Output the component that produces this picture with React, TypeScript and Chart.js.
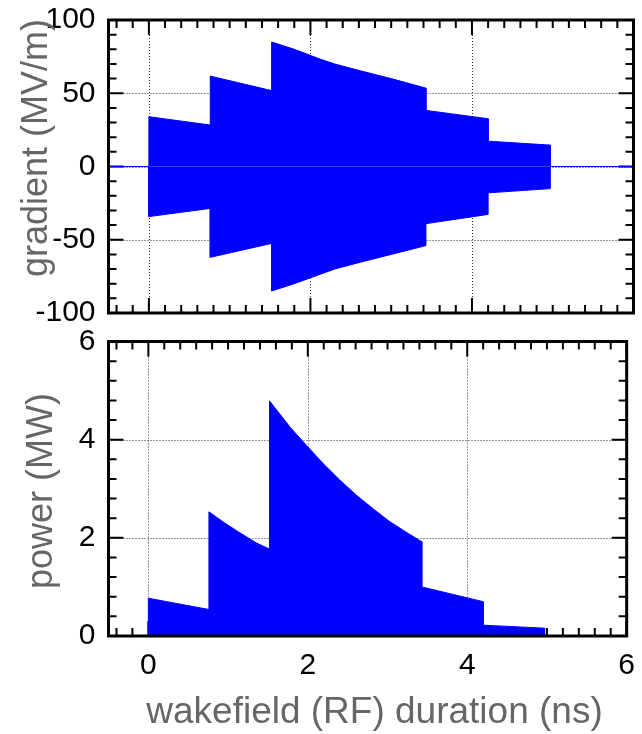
import React, { useEffect, useRef } from 'react';
import { Chart, registerables } from 'chart.js';

Chart.register(...registerables);

const W = 642;
const H = 734;
const FONT = '"Liberation Sans", Arial, Helvetica, sans-serif';
const BLUE = '#0000ff';
const TITLE_COLOR = '#666666';

// shared time axis (ns)
const timeMin = -0.5;
const timeMax = 6;
const timeTicks = [0, 2, 4, 6];
const timeTickLabels = ['0', '2', '4', '6'];
const timeMinorStep = 0.2;

// accelerating gradient envelope (MV/m)
const gradTime = [-0.5, 0, 0, 0.76, 0.76, 1.52, 1.52, 1.8, 2.12, 2.3, 2.62, 3.0, 3.43, 3.43, 4.2, 4.2, 4.97, 4.97, 6];
const gradUpper = [0, 0, 34, 28.3, 61.7, 51.8, 85, 80, 73.3, 70, 65.3, 60, 53.5, 38.3, 32.6, 17.3, 14.6, 0, 0];
const gradLower = [0, 0, -34.2, -28.6, -62, -52.5, -85, -80, -73.6, -70, -65.3, -60, -54, -39, -32.7, -18, -15.1, 0, 0];
const gradTicks = [-100, -50, 0, 50, 100];
const gradTickLabels = ['-100', '-50', '0', '50', '100'];
const gradMinorStep = 10;

// RF power (MW)
const powerTime = [
  -0.2, 0, 0, 0.76, 0.76, 0.95, 1.15, 1.35, 1.52, 1.52, 1.78, 1.93, 2.2, 2.4, 2.61, 2.82, 3.02, 3.23, 3.43, 3.43,
  4.2, 4.2, 4.97, 4.97, 6,
];
const powerValues = [
  0, 0, 0.77, 0.54, 2.53, 2.31, 2.1, 1.9, 1.77, 4.79, 4.25, 3.98, 3.5, 3.18, 2.87, 2.59, 2.34, 2.12, 1.92, 1.0,
  0.7, 0.22, 0.16, 0, 0,
];
const powerTicks = [0, 2, 4, 6];
const powerTickLabels = ['0', '2', '4', '6'];
const powerMinorStep = 0.4;

type Title = { text: string; x: number; y: number; rotate: boolean; size: number };

type FrameOpts = {
  xMajor: number[];
  yMajor: number[];
  xStep: number;
  yStep: number;
  titles: Title[];
};

function stepValues(min: number, max: number, step: number): number[] {
  const out: number[] = [];
  const i0 = Math.ceil(min / step - 1e-9);
  const i1 = Math.floor(max / step + 1e-9);
  for (let i = i0; i <= i1; i++) out.push(+(i * step).toFixed(6));
  return out;
}

// Boxed frame with inward ticks on all four sides, dotted grid and axis titles
function makeFrame(opts: FrameOpts) {
  const isMajor = (list: number[], v: number) => list.some((m) => Math.abs(m - v) < 1e-6);
  return {
    id: 'frame',
    beforeDatasetsDraw(chart: any) {
      const { ctx, chartArea: a, scales } = chart;
      const x = scales.x;
      const y = scales.y;
      ctx.save();
      ctx.strokeStyle = '#333333';
      ctx.lineWidth = 1;
      ctx.setLineDash([1, 2]);
      ctx.beginPath();
      for (const v of opts.xMajor) {
        const px = Math.round(x.getPixelForValue(v)) + 0.5;
        if (px < a.left + 3 || px > a.right - 3) continue;
        ctx.moveTo(px, a.top);
        ctx.lineTo(px, a.bottom);
      }
      for (const v of opts.yMajor) {
        const py = Math.round(y.getPixelForValue(v)) + 0.5;
        if (py < a.top + 3 || py > a.bottom - 3) continue;
        ctx.moveTo(a.left, py);
        ctx.lineTo(a.right, py);
      }
      ctx.stroke();
      ctx.setLineDash([]);

      ctx.strokeStyle = '#000000';
      ctx.lineWidth = 2;
      ctx.beginPath();
      for (const v of stepValues(x.min, x.max, opts.xStep)) {
        const px = x.getPixelForValue(v);
        const len = isMajor(opts.xMajor, v) ? 15 : 8;
        ctx.moveTo(px, a.top);
        ctx.lineTo(px, a.top + len);
        ctx.moveTo(px, a.bottom);
        ctx.lineTo(px, a.bottom - len);
      }
      for (const v of stepValues(y.min, y.max, opts.yStep)) {
        const py = y.getPixelForValue(v);
        const len = isMajor(opts.yMajor, v) ? 15 : 8;
        ctx.moveTo(a.left, py);
        ctx.lineTo(a.left + len, py);
        ctx.moveTo(a.right, py);
        ctx.lineTo(a.right - len, py);
      }
      ctx.stroke();
      ctx.restore();
    },
    afterDatasetsDraw(chart: any) {
      const { ctx, chartArea: a } = chart;
      ctx.save();
      ctx.strokeStyle = '#000000';
      ctx.lineWidth = 3;
      ctx.strokeRect(a.left, a.top, a.right - a.left, a.bottom - a.top);
      ctx.restore();
    },
    afterDraw(chart: any) {
      const { ctx } = chart;
      ctx.save();
      ctx.fillStyle = TITLE_COLOR;
      ctx.textAlign = 'center';
      ctx.textBaseline = 'alphabetic';
      for (const t of opts.titles) {
        ctx.save();
        ctx.font = `${t.size}px ${FONT}`;
        ctx.translate(t.x, t.y);
        if (t.rotate) ctx.rotate(-Math.PI / 2);
        ctx.fillText(t.text, 0, 0);
        ctx.restore();
      }
      ctx.restore();
    },
  };
}

function pts(xs: number[], ys: number[]) {
  return xs.map((x, i) => ({ x, y: ys[i] }));
}

function lineSet(data: { x: number; y: number }[]) {
  return {
    data,
    borderColor: BLUE,
    backgroundColor: BLUE,
    borderWidth: 1,
    pointRadius: 0,
    tension: 0,
    fill: 'origin',
  };
}

function axisY(min: number, max: number, values: number[], labels: string[]) {
  return {
    type: 'linear',
    min,
    max,
    afterBuildTicks: (s: any) => {
      s.ticks = values.map((v) => ({ value: v }));
    },
    afterFit: (s: any) => {
      s.width = 108.5;
    },
    ticks: {
      color: '#000000',
      font: { family: FONT, size: 30, lineHeight: 1 },
      padding: 5,
      callback: (v: number) => {
        const i = values.findIndex((t) => Math.abs(t - v) < 1e-6);
        return i >= 0 ? labels[i] : '';
      },
    },
    grid: { display: false },
    border: { display: false },
  };
}

function axisX(showLabels: boolean, height: number) {
  return {
    type: 'linear',
    min: timeMin,
    max: timeMax,
    afterBuildTicks: (s: any) => {
      s.ticks = timeTicks.map((v) => ({ value: v }));
    },
    afterFit: (s: any) => {
      s.height = height;
    },
    ticks: {
      display: showLabels,
      color: '#000000',
      font: { family: FONT, size: 30, lineHeight: 1 },
      padding: 7,
      maxRotation: 0,
      autoSkip: false,
      callback: (v: number) => {
        const i = timeTicks.findIndex((t) => Math.abs(t - v) < 1e-6);
        return i >= 0 ? timeTickLabels[i] : '';
      },
    },
    grid: { display: false },
    border: { display: false },
  };
}

export default function App() {
  const topRef = useRef<HTMLCanvasElement | null>(null);
  const bottomRef = useRef<HTMLCanvasElement | null>(null);

  useEffect(() => {
    if (!topRef.current || !bottomRef.current) return;
    Chart.defaults.font.family = FONT;

    const gradientChart = new Chart(topRef.current, {
      type: 'line',
      data: {
        datasets: [lineSet(pts(gradTime, gradUpper)), lineSet(pts(gradTime, gradLower))] as any,
      },
      options: {
        animation: false,
        responsive: false,
        devicePixelRatio: 1,
        events: [],
        layout: { padding: { left: 0, right: 8.5, top: 17, bottom: 0 } },
        plugins: { legend: { display: false }, tooltip: { enabled: false } },
        scales: {
          x: axisX(false, H - 313) as any,
          y: axisY(-100, 100, gradTicks, gradTickLabels) as any,
        },
      },
      plugins: [
        makeFrame({
          xMajor: timeTicks,
          yMajor: gradTicks,
          xStep: timeMinorStep,
          yStep: gradMinorStep,
          titles: [{ text: 'gradient (MV/m)', x: 47, y: 148, rotate: true, size: 36 }],
        }),
      ],
    });

    const powerChart = new Chart(bottomRef.current, {
      type: 'line',
      data: {
        datasets: [lineSet(pts(powerTime, powerValues))] as any,
      },
      options: {
        animation: false,
        responsive: false,
        devicePixelRatio: 1,
        events: [],
        layout: { padding: { left: 0, right: 8.5, top: 341.5, bottom: 0 } },
        plugins: { legend: { display: false }, tooltip: { enabled: false } },
        scales: {
          x: axisX(true, H - 636) as any,
          y: axisY(0, 6, powerTicks, powerTickLabels) as any,
        },
      },
      plugins: [
        makeFrame({
          xMajor: timeTicks,
          yMajor: powerTicks,
          xStep: timeMinorStep,
          yStep: powerMinorStep,
          titles: [
            { text: 'power (MW)', x: 52, y: 491, rotate: true, size: 36 },
            { text: 'wakefield (RF) duration (ns)', x: 374.5, y: 723, rotate: false, size: 37 },
          ],
        }),
      ],
    });

    return () => {
      gradientChart.destroy();
      powerChart.destroy();
    };
  }, []);

  const canvasStyle: React.CSSProperties = { position: 'absolute', left: 0, top: 0 };
  return (
    <div style={{ position: 'absolute', left: 0, top: 0, width: W, height: H, background: '#ffffff' }}>
      <canvas ref={topRef} width={W} height={H} style={canvasStyle} />
      <canvas ref={bottomRef} width={W} height={H} style={canvasStyle} />
    </div>
  );
}
